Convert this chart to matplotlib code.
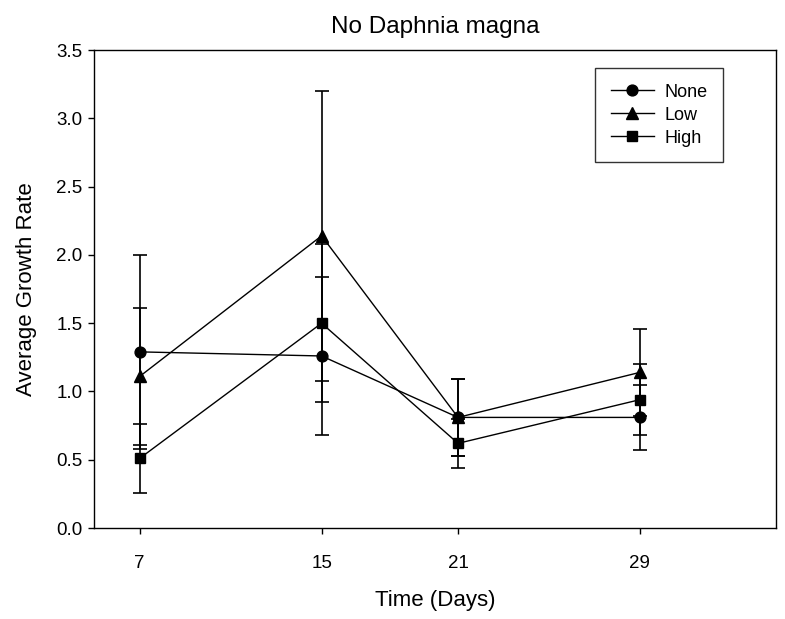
import matplotlib
matplotlib.use("Agg")
import matplotlib.pyplot as plt
from matplotlib.lines import Line2D

plt.rcParams["font.family"] = ["Liberation Sans", "DejaVu Sans"]

days = [7, 15, 21, 29]

none_mean = [1.29, 1.26, 0.81, 0.81]
none_err = [0.71, 0.58, 0.28, 0.235]

low_mean = [1.11, 2.14, 0.81, 1.14]
low_err = [0.50, 1.06, 0.28, 0.32]

high_mean = [0.51, 1.50, 0.62, 0.94]
high_err = [0.25, 0.58, 0.18, 0.26]

series = [
    ("None", none_mean, none_err, "o", 7.8),
    ("Low", low_mean, low_err, "^", 8.0),
    ("High", high_mean, high_err, "s", 7.0),
]

fig = plt.figure(figsize=(7.85, 6.19), dpi=100)
ax = fig.add_axes([0.120, 0.147, 0.869, 0.772])

handles = []
for label, mean, err, marker, ms in series:
    ax.errorbar(
        days,
        mean,
        yerr=err,
        color="black",
        marker=marker,
        markersize=ms,
        linewidth=1.0,
        elinewidth=1.2,
        capsize=4.7,
        capthick=1.2,
    )
    handles.append(
        Line2D([], [], color="black", marker=marker, markersize=ms,
               linewidth=1.0, label=label)
    )

ax.set_xlim(5, 35)
ax.set_ylim(0, 3.5)
ax.set_xticks(days)
ax.set_yticks([0.0, 0.5, 1.0, 1.5, 2.0, 2.5, 3.0, 3.5])
ax.set_yticklabels(["0.0", "0.5", "1.0", "1.5", "2.0", "2.5", "3.0", "3.5"])
ax.tick_params(direction="out", length=4.5, width=1, labelsize=13.5, pad=4)
ax.tick_params(axis="x", pad=15)

for side in ax.spines.values():
    side.set_linewidth(1)

ax.set_title("No Daphnia magna", fontsize=17.5, pad=12)
ax.set_xlabel("Time (Days)", fontsize=16, labelpad=13)
ax.set_ylabel("Average Growth Rate", fontsize=16, labelpad=14)

leg = ax.legend(
    handles=handles,
    loc="upper right",
    bbox_to_anchor=(0.922, 0.962),
    borderaxespad=0,
    fontsize=13,
    handlelength=2.4,
    handletextpad=0.6,
    frameon=True,
    fancybox=False,
    borderpad=0.85,
    labelspacing=0.33,
)
leg.get_frame().set_edgecolor("black")
leg.get_frame().set_linewidth(1)

fig.savefig("out.png", dpi=100)
